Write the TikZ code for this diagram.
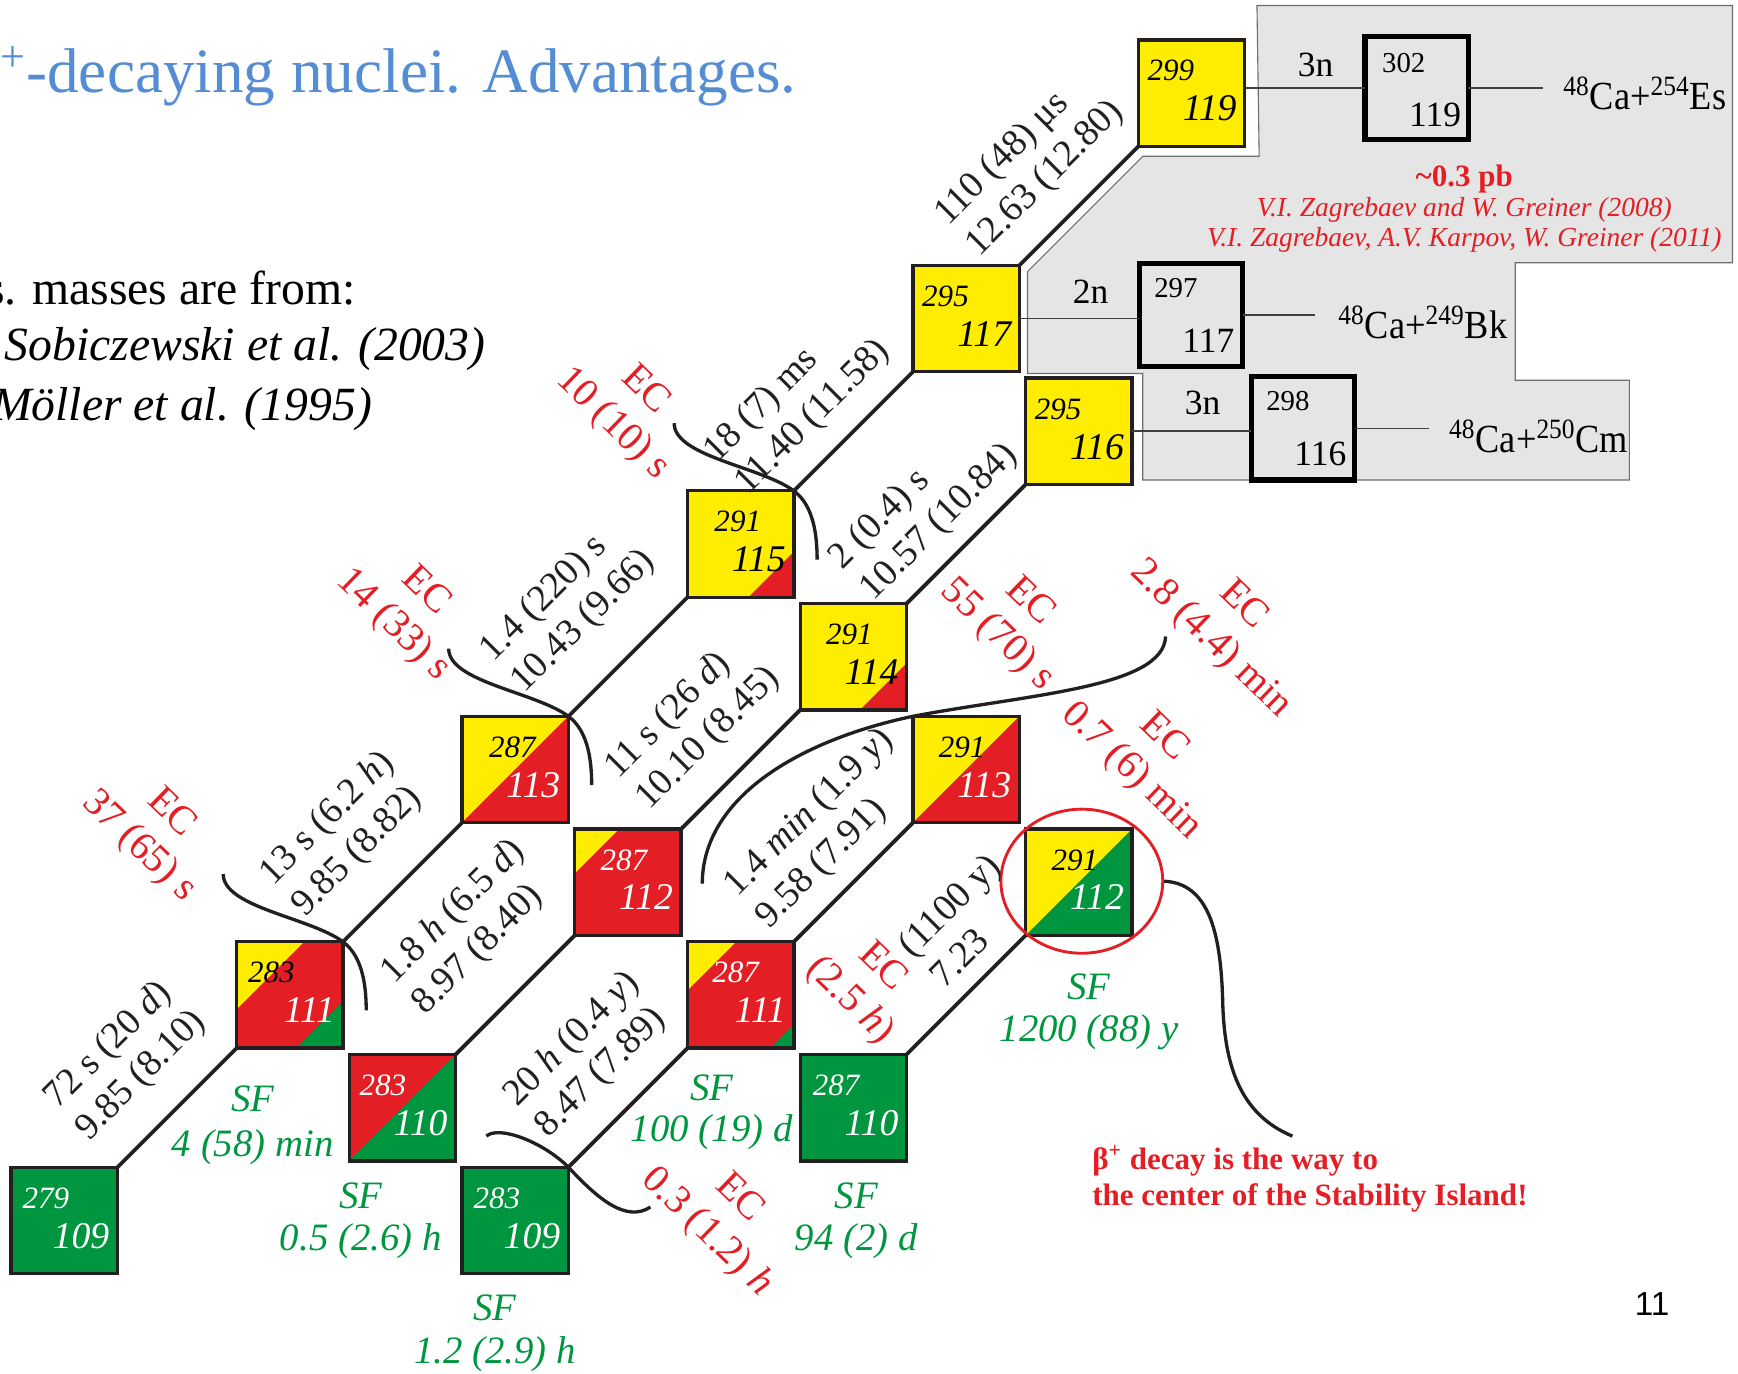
\documentclass[tikz,border=0pt]{standalone}
\usepackage{fontspec}
\setmainfont{Liberation Serif}
\newfontfamily\pagenumfont{Liberation Sans}
\newfontfamily\condserif[FakeStretch=0.91]{Liberation Serif}
\usetikzlibrary{calc,shapes.geometric}
\definecolor{cyel}{RGB}{255,237,0}
\definecolor{cred}{RGB}{227,30,36}
\definecolor{cgrn}{RGB}{0,150,64}
\definecolor{cgray}{RGB}{229,229,229}
\definecolor{cline}{RGB}{35,31,32}
\definecolor{ctitle}{RGB}{84,141,212}
\definecolor{cgborder}{RGB}{110,110,110}
\tikzset{
  nbox/.style={draw=cline, line width=1.5pt, minimum size=48pt, inner sep=0pt, outer sep=0pt},
  gbox/.style={draw=black, line width=2.3pt, fill=cgray, minimum size=46.5pt, inner sep=0pt, outer sep=0pt},
  corners/.style n args={4}{path picture={
      \fill[#1] (path picture bounding box.north west) -- ++(#2,0) -- ++(-#2,#2) -- cycle;
      \fill[#3] (path picture bounding box.south east) -- ++(-#4,0) -- ++(#4,-#4) -- cycle;}},
  masst/.style={inner sep=0pt, font=\fontsize{14}{16}\selectfont\itshape},
  zt/.style={inner sep=0pt, font=\fontsize{17}{19}\selectfont\itshape},
  gmass/.style={inner sep=0pt, font=\fontsize{13}{15}\selectfont, anchor=base west},
  gz/.style={inner sep=0pt, font=\fontsize{16}{18}\selectfont, anchor=base east},
  aline/.style={draw=cline, line width=1.7pt},
  gline/.style={draw=black!75, line width=0.8pt},
  ecurve/.style={draw=cline, line width=1.5pt},
  alab/.style={inner sep=0pt, font=\fontsize{17}{20}\selectfont, align=left, rotate=45, text=cline},
  eclab/.style={inner sep=0pt, font=\fontsize{18}{21}\selectfont, align=center, rotate=-44, text=cred},
  sft/.style={inner sep=0pt, font=\fontsize{17.5}{20}\selectfont\itshape, text=cgrn, anchor=base},
  ntxt/.style={inner sep=0pt, font=\fontsize{16}{18}\selectfont, anchor=base},
  rtxt/.style={inner sep=0pt, font=\condserif\fontsize{18}{20}\selectfont, anchor=base west},
}
\newcommand\nuc[9]{%
  \node[nbox,#4] (#1) at ({58+101.7*#2},{84+101.7*#3}) {};
  \node[masst,text=#7,anchor=base west] (#1m) at ($(#1.north west)+(#9,37)$) {#5};
  \node[zt,text=#8,anchor=base east] (#1z) at ($(#1.north east)+(-7,73)$) {#6};
}
\begin{document}
\begin{tikzpicture}[x=0.5pt,y=-0.5pt]
\useasboundingbox (0,0) rectangle (1568,1239);

% title and references
\node[anchor=base east, inner sep=0pt, text=ctitle, font=\fontsize{28.5}{30}\selectfont] (title) at (719,83) {β\textsuperscript{+}-decaying nuclei. Advantages.};
\node[anchor=base east, inner sep=0pt, font=\fontsize{21.5}{24}\selectfont] (refs) at (321,275) {s. masses are from:};
\node[anchor=base west, inner sep=0pt, font=\fontsize{21.5}{24}\selectfont\itshape] (ref1) at (4,325) {Sobiczewski et al. (2003)};
\node[anchor=base east, inner sep=0pt, font=\fontsize{21.5}{24}\selectfont\itshape] (ref2) at (336,379) {Möller et al. (1995)};

% gray region
\filldraw[fill=cgray, draw=cgborder, line width=0.5pt]
  (1134,5) -- (1563,5) -- (1563,237) -- (1367,237) -- (1367,343) -- (1470,343)
  -- (1470,433) -- (1031,433) -- (1031,337) -- (927,337) -- (927,245)
  -- (1031,141) -- (1136,141) -- cycle;

% nuclide boxes
\nuc{n279}{0}{10}{fill=cgrn}{279}{109}{white}{white}{10}
\nuc{n283a}{2}{8}{fill=cred,corners={cyel}{61}{cgrn}{42}}{283}{111}{black}{white}{10}
\nuc{n283b}{3}{9}{fill=cred,corners={cred}{0}{cgrn}{96}}{283}{110}{white}{white}{9}
\nuc{n283c}{4}{10}{fill=cgrn}{283}{109}{white}{white}{10}
\nuc{n287a}{4}{6}{fill=cyel,corners={cyel}{0}{cred}{96}}{287}{113}{black}{white}{24}
\nuc{n287b}{5}{7}{fill=cred,corners={cyel}{40}{cred}{0}}{287}{112}{white}{white}{23}
\nuc{n287c}{6}{8}{fill=cred,corners={cyel}{44}{cgrn}{21}}{287}{111}{white}{white}{22}
\nuc{n287d}{7}{9}{fill=cgrn}{287}{110}{white}{white}{11}
\nuc{n291a}{6}{4}{fill=cyel,corners={cyel}{0}{cred}{41}}{291}{115}{black}{black}{24}
\nuc{n291b}{7}{5}{fill=cyel,corners={cyel}{0}{cred}{42}}{291}{114}{black}{black}{23}
\nuc{n291c}{8}{6}{fill=cyel,corners={cyel}{0}{cred}{96}}{291}{113}{black}{white}{23}
\nuc{n291d}{9}{7}{fill=cyel,corners={cyel}{0}{cgrn}{96}}{291}{112}{black}{white}{23}
\nuc{n295a}{8}{2}{fill=cyel}{295}{117}{black}{black}{8}
\nuc{n295b}{9}{3}{fill=cyel}{295}{116}{black}{black}{8}
\nuc{n299}{10}{0}{fill=cyel}{299}{119}{black}{black}{8}

% production boxes
\node[gbox] (b302) at (1278,79.5) {};
\node[gbox] (b297) at (1074.5,284.5) {};
\node[gbox] (b298) at (1175.5,386.5) {};
\node[gmass] (b302m) at ($(b302.north west)+(15,32)$) {302};
\node[gz] (b302z) at ($(b302.north east)+(-6,81)$) {119};
\node[gmass] (b297m) at ($(b297.north west)+(13,30)$) {297};
\node[gz] (b297z) at ($(b297.north east)+(-7,80)$) {117};
\node[gmass] (b298m) at ($(b298.north west)+(13,30)$) {298};
\node[gz] (b298z) at ($(b298.north east)+(-7,80)$) {116};

\draw[gline] (b302.west) -- (b302.west -| n299.east);
\draw[gline] (n295a.east) -- (n295a.east -| b297.west);
\draw[gline] (n295b.east) -- (n295b.east -| b298.west);
\coordinate (e302) at (1392,79.5);
\coordinate (e297) at (1186,284.5);
\coordinate (e298) at (1289,386.5);
\draw[gline] (b302.east) -- (e302);
\draw[gline] (b297.east) -- (e297);
\draw[gline] (b298.east) -- (e298);

\node[ntxt] (n3a) at (1187,69) {3n};
\node[ntxt] (n2a) at (984,274) {2n};
\node[ntxt] (n3b) at (1085,374) {3n};
\node[rtxt] (rEs) at (1410,99) {\textsuperscript{48}Ca+\textsuperscript{254}Es};
\node[rtxt] (rBk) at (1207,305) {\textsuperscript{48}Ca+\textsuperscript{249}Bk};
\node[rtxt] (rCm) at (1307,408) {\textsuperscript{48}Ca+\textsuperscript{250}Cm};

\node[inner sep=0pt, anchor=base, text=cred, font=\fontsize{14}{16}\selectfont\bfseries] (xs) at (1321,168) {\textasciitilde0.3 pb};
\node[inner sep=0pt, anchor=base, text=cred, font=\fontsize{12.4}{14}\selectfont\itshape] (zg1) at (1321,195) {V.I. Zagrebaev and W. Greiner (2008)};
\node[inner sep=0pt, anchor=base, text=cred, font=\fontsize{12.4}{14}\selectfont\itshape] (zg2) at (1321,222) {V.I. Zagrebaev, A.V. Karpov, W. Greiner (2011)};

% alpha decay connectors
\draw[aline] (n295a.north east) -- (n299.south west);
\draw[aline] (n291a.north east) -- (n295a.south west);
\draw[aline] (n287a.north east) -- (n291a.south west);
\draw[aline] (n283a.north east) -- (n287a.south west);
\draw[aline] (n279.north east) -- (n283a.south west);
\draw[aline] (n291b.north east) -- (n295b.south west);
\draw[aline] (n287b.north east) -- (n291b.south west);
\draw[aline] (n283b.north east) -- (n287b.south west);
\draw[aline] (n287c.north east) -- (n291c.south west);
\draw[aline] (n283c.north east) -- (n287c.south west);
\draw[aline] (n287d.north east) -- (n291d.south west);

% EC curves
\coordinate (k1) at (n291a.north east);
\coordinate (k2) at (n287a.north east);
\coordinate (k3) at (n283a.north east);
\foreach \k in {k1,k2,k3}{
  \draw[ecurve] ($(\k)+(-108,-61)$) .. controls ($(\k)+(-108,-31)$) and ($(\k)+(-30,-22)$) .. (\k)
     .. controls ($(\k)+(16,12)$) and ($(\k)+(21,35)$) .. ($(\k)+(21,62)$);
}
\coordinate (k4) at (n291c.north west);
\draw[ecurve] ($(k4)+(-190,151)$) .. controls ($(k4)+(-190,74)$) and ($(k4)+(-104,22)$) .. (k4)
   .. controls ($(k4)+(106,-20)$) and ($(k4)+(226,-26)$) .. ($(k4)+(228,-72)$);
\coordinate (k5) at (n283c.north east);
\draw[ecurve] ($(k5)+(-74,-28)$) .. controls ($(k5)+(-63,-38)$) and ($(k5)+(-23,-23)$) .. (k5)
   .. controls ($(k5)+(27,29)$) and ($(k5)+(52,50)$) .. ($(k5)+(74,36)$);

% ring and pointer
\node[draw=cred, line width=1.3pt, ellipse, minimum width=73pt, minimum height=65pt, inner sep=0pt] (ring) at (976,795) {};
\coordinate (pend) at (1166,1025);
\draw[ecurve] (ring.east) .. controls (1090,797) and (1101,840) .. (1103,900)
   .. controls (1104,960) and (1118,1005) .. (pend);
\node[inner sep=0pt, anchor=base west, text=cred, font=\fontsize{14}{16}\selectfont\bfseries] (msg1) at (985,1055) {β\textsuperscript{+} decay is the way to};
\node[inner sep=0pt, anchor=base west, text=cred, font=\fontsize{14}{16}\selectfont\bfseries] (msg2) at (985,1088) {the center of the Stability Island!};

% alpha labels
\node[alab] (lab1) at (929,147.5) {110 (48) μs\\12.63 (12.80)};
\node[alab] (lab2) at (719.5,362.5) {18 (7) ms\\11.40 (11.58)};
\node[alab] (lab3) at (512.5,547) {1.4 (220) s\\10.43 (9.66)};
\node[alab] (lab4) at (310,753) {13 s (6.2 \textit{h})\\9.85 (8.82)};
\node[alab] (lab5) at (113.5,956.5) {72 s (20 \textit{d})\\9.85 (8.10)};
\node[alab] (lab6) at (833.5,457.5) {2 (0.4) s\\10.57 (10.84)};
\node[alab] (lab7) at (625,652.5) {11 s (26 \textit{d})\\10.10 (8.45)};
\node[alab] (lab8) at (423.5,837) {1.8 \textit{h} (6.5 \textit{d})\\8.97 (8.40)};
\node[alab] (lab9) at (744.5,748) {1.4 \textit{min} (1.9 \textit{y})\\9.58 (7.91)};
\node[alab] (lab10) at (530.5,952) {20 \textit{h} (0.4 \textit{y})\\8.47 (7.89)};
\node[alab] (lab11) at (870,830) {(1100 y)\\7.23};

% EC labels
\node[eclab] (ec1) at (139.5,749) {EC\\37 (65) s};
\node[eclab] (ec2) at (369,549) {EC\\14 (33) s};
\node[eclab] (ec3) at (567,367.5) {EC\\10 (10) s};
\node[eclab] (ec4) at (914,558.5) {EC\\55 (70) s};
\node[eclab] (ec5) at (1106.5,562) {EC\\2.8 (4.4) min};
\node[eclab] (ec6) at (1035,681) {EC\\0.7 (6) min};
\node[eclab] (ec7) at (781,888) {EC\\(2.5 \textit{h})};
\node[eclab] (ec8) at (652,1097) {EC\\0.3 (1.2) \textit{h}};

% SF labels
\node[sft] (sf1) at (228,1003) {SF};
\node[sft] (sf1v) at (228,1043) {4 (58) min};
\node[sft] (sf2) at (325.5,1090) {SF};
\node[sft] (sf2v) at (325.5,1128) {0.5 (2.6) h};
\node[sft] (sf3) at (446.5,1191) {SF};
\node[sft] (sf3v) at (446.5,1230) {1.2 (2.9) h};
\node[sft] (sf4) at (642,993) {SF};
\node[sft] (sf4v) at (642,1030) {100 (19) d};
\node[sft] (sf5) at (772.5,1090) {SF};
\node[sft] (sf5v) at (772.5,1128) {94 (2) d};
\node[sft] (sf6) at (982.5,902) {SF};
\node[sft] (sf6v) at (982.5,940) {1200 (88) y};

\node[inner sep=0pt, anchor=base, font=\pagenumfont\fontsize{15}{17}\selectfont] (pnum) at (1490.5,1187) {11};
\end{tikzpicture}
\end{document}
